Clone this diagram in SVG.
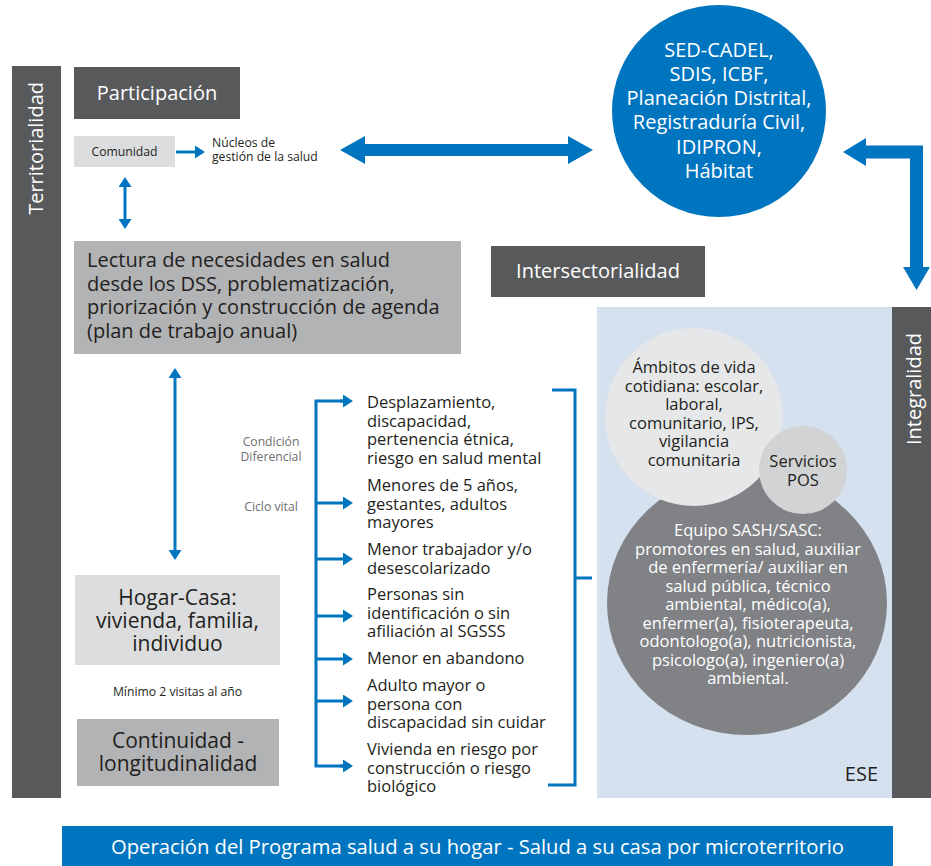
<svg xmlns="http://www.w3.org/2000/svg" width="931" height="866" viewBox="0 0 931 866">
<style>
text{font-family:"Open Sans","Noto Sans","Liberation Sans",sans-serif;}
.w{fill:#ffffff;}
.k{fill:#231f20;}
.g{fill:#6d6e71;}
.dark{fill:#58595b;}
.t20{font-size:20px;}
.t21{font-size:21px;}
.t16{font-size:16.5px;}
.t12{font-size:12.2px;}
.mid{text-anchor:middle;}
.thin{fill:none;stroke:#0075bf;stroke-width:3;}
.blk{fill:#0075bf;}
</style>
<defs>
<marker id="ah" viewBox="0 0 10 13" markerWidth="10" markerHeight="13" refX="5" refY="6.5" orient="auto-start-reverse" markerUnits="userSpaceOnUse">
<path d="M0,0 L10,6.5 L0,13 z" fill="#0075bf"/>
</marker>
</defs>

<g id="territorialidad">
<rect x="12" y="66" width="49" height="732" class="dark"/>
<text class="w t20" text-anchor="end" transform="translate(43,82) rotate(-90)">Territorialidad</text>
</g>

<g id="ese">
<rect x="597" y="307" width="295" height="491" fill="#d5e1ef"/>
<text class="k t20" x="878" y="781" text-anchor="end">ESE</text>
</g>

<g id="integralidad">
<rect x="892" y="307" width="39" height="491" class="dark"/>
<text class="w t20" text-anchor="end" transform="translate(921,333) rotate(-90)">Integralidad</text>
</g>

<g id="participacion">
<rect x="74" y="67" width="166" height="52" class="dark"/>
<text class="w t20 mid" x="157" y="100">Participación</text>
</g>

<g id="comunidad">
<rect x="74" y="136" width="101" height="31" fill="#dcdddf"/>
<text class="k t12 mid" x="124.5" y="156">Comunidad</text>
</g>

<g id="nucleos">
<text class="k t12" x="212" y="147"><tspan x="212" y="147">Núcleos de</tspan><tspan x="212" dy="14">gestión de la salud</tspan></text>
</g>

<g id="entidades">
<ellipse cx="719" cy="111" rx="107" ry="106" fill="#0075bf"/>
<text class="w t20 mid"><tspan x="719" y="57">SED-CADEL,</tspan><tspan x="719" dy="24">SDIS, ICBF,</tspan><tspan x="719" dy="24">Planeación Distrital,</tspan><tspan x="719" dy="24">Registraduría Civil,</tspan><tspan x="719" dy="24.5">IDIPRON,</tspan><tspan x="719" dy="24">Hábitat</tspan></text>
</g>

<g id="lectura">
<rect x="74" y="241" width="387" height="113" fill="#b2b3b5"/>
<text class="k t20"><tspan x="87" y="267">Lectura de necesidades en salud</tspan><tspan x="87" dy="23.5">desde los DSS, problematización,</tspan><tspan x="87" dy="23.5">priorización y construcción de agenda</tspan><tspan x="87" dy="23.5">(plan de trabajo anual)</tspan></text>
</g>

<g id="intersectorialidad">
<rect x="491" y="246" width="214" height="51" class="dark"/>
<text class="w t20 mid" x="598" y="278">Intersectorialidad</text>
</g>

<g id="hogar">
<rect x="75" y="575" width="205" height="90" fill="#dcdddf"/>
<text class="k t21 mid"><tspan x="177.5" y="604.5">Hogar-Casa:</tspan><tspan x="177.5" dy="23">vivienda, familia,</tspan><tspan x="177.5" dy="23">individuo</tspan></text>
</g>

<g id="minimo">
<text class="k t12 mid" x="177.5" y="696">Mínimo 2 visitas al año</text>
</g>

<g id="continuidad">
<rect x="77" y="719" width="202" height="67" fill="#b2b3b5"/>
<text class="k t21 mid"><tspan x="178" y="748">Continuidad -</tspan><tspan x="178" dy="23">longitudinalidad</tspan></text>
</g>

<g id="labels">
<text class="g t12 mid"><tspan x="271" y="446">Condición</tspan><tspan x="271" dy="15">Diferencial</tspan></text>
<text class="g t12 mid" x="271" y="511">Ciclo vital</text>
</g>

<g id="poblaciones">
<text class="k t16"><tspan x="367" y="408">Desplazamiento,</tspan><tspan x="367" dy="18.5">discapacidad,</tspan><tspan x="367" dy="18.5">pertenencia étnica,</tspan><tspan x="367" dy="18.5">riesgo en salud mental</tspan></text>
<text class="k t16"><tspan x="367" y="491">Menores de 5 años,</tspan><tspan x="367" dy="18.5">gestantes, adultos</tspan><tspan x="367" dy="18.5">mayores</tspan></text>
<text class="k t16"><tspan x="367" y="555">Menor trabajador y/o</tspan><tspan x="367" dy="18.5">desescolarizado</tspan></text>
<text class="k t16"><tspan x="367" y="600">Personas sin</tspan><tspan x="367" dy="18.5">identificación o sin</tspan><tspan x="367" dy="18.5">afiliación al SGSSS</tspan></text>
<text class="k t16" x="367" y="664">Menor en abandono</text>
<text class="k t16"><tspan x="367" y="691">Adulto mayor o</tspan><tspan x="367" dy="18.5">persona con</tspan><tspan x="367" dy="18.5">discapacidad sin cuidar</tspan></text>
<text class="k t16"><tspan x="367" y="755">Vivienda en riesgo por</tspan><tspan x="367" dy="18.5">construcción o riesgo</tspan><tspan x="367" dy="18.5">biológico</tspan></text>
</g>

<g id="equipo">
<ellipse cx="747" cy="603" rx="140" ry="132" fill="#808285"/>
<text class="w t16 mid"><tspan x="748" y="536">Equipo SASH/SASC:</tspan><tspan x="748" dy="18.5">promotores en salud, auxiliar</tspan><tspan x="748" dy="18.5">de enfermería/ auxiliar en</tspan><tspan x="748" dy="18.5">salud pública, técnico</tspan><tspan x="748" dy="18.5">ambiental, médico(a),</tspan><tspan x="748" dy="18.5">enfermer(a), fisioterapeuta,</tspan><tspan x="748" dy="18.5">odontologo(a), nutricionista,</tspan><tspan x="748" dy="18.5">psicologo(a), ingeniero(a)</tspan><tspan x="748" dy="18.5">ambiental.</tspan></text>
</g>

<g id="ambitos">
<circle cx="694" cy="417" r="89" fill="#e6e7e8"/>
<text class="k t16 mid"><tspan x="694" y="373">Ámbitos de vida</tspan><tspan x="694" dy="18.5">cotidiana: escolar,</tspan><tspan x="694" dy="18.5">laboral,</tspan><tspan x="694" dy="18.5">comunitario, IPS,</tspan><tspan x="694" dy="18.5">vigilancia</tspan><tspan x="694" dy="18.5">comunitaria</tspan></text>
</g>

<g id="servicios">
<circle cx="803" cy="470" r="44" fill="#d1d3d4"/>
<text class="k t16 mid"><tspan x="803" y="467">Servicios</tspan><tspan x="803" dy="19">POS</tspan></text>
</g>

<g id="programa">
<rect x="62" y="826" width="831" height="40" fill="#0075bf"/>
<text class="w t20 mid" x="477.5" y="854" textLength="733" lengthAdjust="spacingAndGlyphs">Operación del Programa salud a su hogar - Salud a su casa por microterritorio</text>
</g>

<g id="connectors">
<path class="blk" d="M340,150 L365,136 L365,144 L568,144 L568,136 L593,150 L568,164 L568,156 L365,156 L365,164 z"/>
<path class="blk" d="M843,152 L866,138 L866,145.5 L923,145.5 L923,267 L930,267 L916.5,290 L903,267 L910,267 L910,158.5 L866,158.5 L866,166 z"/>
<line class="thin" x1="176" y1="152" x2="200" y2="152" marker-end="url(#ah)"/>
<line class="thin" x1="125" y1="182" x2="125" y2="224" marker-start="url(#ah)" marker-end="url(#ah)"/>
<line class="thin" x1="175" y1="373" x2="175" y2="555" marker-start="url(#ah)" marker-end="url(#ah)"/>
<path class="thin" d="M348,401 H316 V766 H348"/>
<line class="thin" x1="340" y1="401" x2="348" y2="401" marker-end="url(#ah)"/>
<line class="thin" x1="316" y1="503" x2="348" y2="503" marker-end="url(#ah)"/>
<line class="thin" x1="316" y1="559" x2="348" y2="559" marker-end="url(#ah)"/>
<line class="thin" x1="316" y1="616" x2="348" y2="616" marker-end="url(#ah)"/>
<line class="thin" x1="316" y1="659" x2="348" y2="659" marker-end="url(#ah)"/>
<line class="thin" x1="316" y1="701" x2="348" y2="701" marker-end="url(#ah)"/>
<line class="thin" x1="340" y1="766" x2="348" y2="766" marker-end="url(#ah)"/>
<path class="thin" d="M552,390 H575 V785 H548 M575,578 H592"/>
</g>
</svg>
